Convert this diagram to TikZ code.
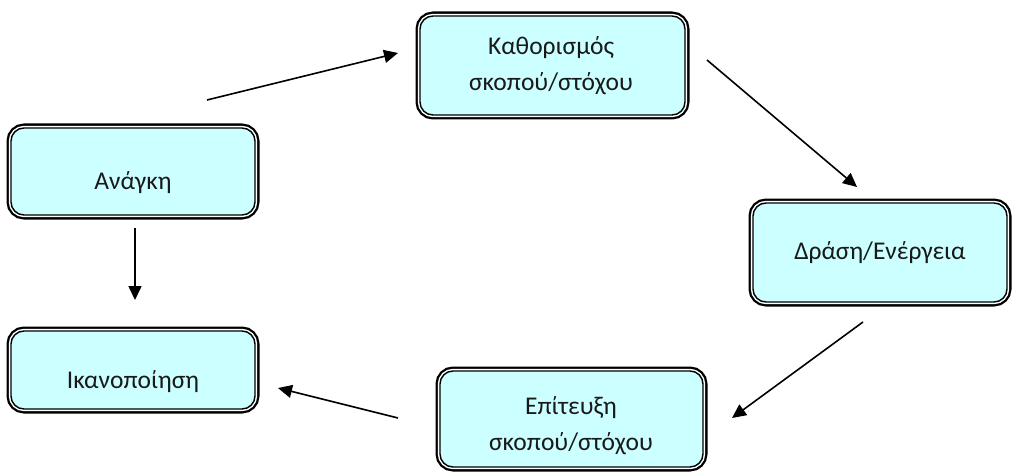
\documentclass[tikz,border=0pt]{standalone}
\usepackage{fontspec}
\setmainfont{Carlito}
\usetikzlibrary{arrows.meta}
\definecolor{boxfill}{RGB}{204,255,255}
\tikzset{
  box/.style={draw=black, line width=1.4pt, fill=boxfill, rounded corners=13pt,
    preaction={draw=black, line width=9pt},
    preaction={draw=white, line width=4.4pt},
    minimum width=#1, inner sep=0pt},
  txt/.style={font=\fontsize{25.5}{36}\selectfont, align=center, inner sep=0pt, text=black!90},
  arr/.style={-{Triangle[length=14pt,width=13pt]}, line width=1.6pt}
}
\begin{document}
\begin{tikzpicture}[x=1pt,y=-1pt]
\useasboundingbox (0,0) rectangle (1012,476);
% boxes (inner outline)
\node[box=244pt, minimum height=87pt] (anagki) at (133,171.5) {};
\node[box=244pt, minimum height=78pt] (ikano) at (133,370) {};
\node[box=265pt, minimum height=99pt] (kath) at (552.5,65.5) {};
\node[box=254pt, minimum height=99pt] (drasi) at (880,252.5) {};
\node[box=263pt, minimum height=96pt] (epit) at (571.5,419) {};
% texts
\node[txt] (tanagki) at (133,183) {Ανάγκη};
\node[txt] (tikano) at (133,382) {Ικανοποίηση};
\node[txt] (tkath) at (551,66) {Καθορισμός\\σκοπού/στόχου};
\node[txt] (tdrasi) at (880,253) {Δράση/Ενέργεια};
\node[txt] (tepit) at (571,426) {Επίτευξη\\σκοπού/στόχου};
% arrow end points
\coordinate (a1s) at (207,100);
\coordinate (a1e) at (398,53);
\coordinate (a2s) at (707,60);
\coordinate (a2e) at (857,187);
\coordinate (a3s) at (863,322);
\coordinate (a3e) at (732,418);
\coordinate (a4s) at (398,418);
\coordinate (a4e) at (278,388);
\coordinate (a5s) at (135,228);
\coordinate (a5e) at (135,300);
\draw[arr] (a1s) -- (a1e);
\draw[arr] (a2s) -- (a2e);
\draw[arr] (a3s) -- (a3e);
\draw[arr] (a4s) -- (a4e);
\draw[arr] (a5s) -- (a5e);
\end{tikzpicture}
\end{document}
